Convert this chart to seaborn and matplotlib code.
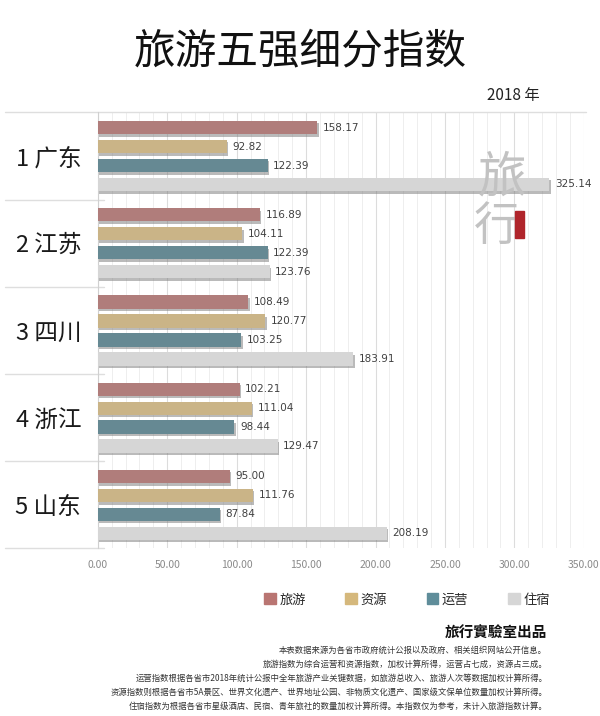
import pandas as pd
import matplotlib.pyplot as plt
import matplotlib.patheffects as pe
import matplotlib.ticker as mticker
from matplotlib.patches import Patch, Rectangle
import seaborn as sns

# --- data ---
provinces = ['1 广东', '2 江苏', '3 四川', '4 浙江', '5 山东']
series = ['旅游', '资源', '运营', '住宿']
tourism = [158.17, 116.89, 108.49, 102.21, 95.00]
resources = [92.82, 104.11, 120.77, 111.04, 111.76]
operation = [122.39, 122.39, 103.25, 98.44, 87.84]
lodging = [325.14, 123.76, 183.91, 129.47, 208.19]
colors = ['#b97572', '#d5b87c', '#5f8d9a', '#d6d6d6']

notes = [
    '本表数据来源为各省市政府统计公报以及政府、相关组织网站公开信息。',
    '旅游指数为综合运营和资源指数，加权计算所得，运营占七成，资源占三成。',
    '运营指数根据各省市2018年统计公报中全年旅游产业关键数据，如旅游总收入、旅游人次等数据加权计算所得。',
    '资源指数则根据各省市5A景区、世界文化遗产、世界地址公园、非物质文化遗产、国家级文保单位数量加权计算所得。',
    '住宿指数为根据各省市星级酒店、民宿、青年旅社的数量加权计算所得。本指数仅为参考，未计入旅游指数计算。',
]

df = pd.DataFrame({'省份': provinces, '旅游': tourism, '资源': resources,
                   '运营': operation, '住宿': lodging})
df = df.melt(id_vars='省份', var_name='指数', value_name='值')

sns.set_style('white')
plt.rcParams['font.family'] = ['Noto Sans CJK SC', 'DejaVu Sans']

fig = plt.figure(figsize=(6, 7.16), dpi=100)
ax = fig.add_axes([0.163, 0.234, 0.81, 0.609])

sns.barplot(data=df, x='值', y='省份', hue='指数', hue_order=series,
            palette=colors, orient='h', width=0.87, gap=0.3, linewidth=0,
            ax=ax, legend=False, zorder=3)

shadow = [pe.SimplePatchShadow(offset=(1.0, -1.8), shadow_rgbFace='#777777', alpha=0.5),
          pe.Normal()]
for bar in ax.patches:
    bar.set_linewidth(0)
    bar.set_path_effects(shadow)
for cont in ax.containers:
    ax.bar_label(cont, fmt='%.2f', padding=4, fontsize=7.5, color='#404040',
                 family='DejaVu Sans')

ax.set_xlim(0, 350)
ax.set_ylim(4.5, -0.5)
ax.xaxis.set_major_locator(mticker.MultipleLocator(50))
ax.xaxis.set_minor_locator(mticker.MultipleLocator(10))
ax.xaxis.set_major_formatter(mticker.FormatStrFormatter('%.2f'))
ax.grid(axis='x', which='major', color='#dcdcdc', lw=0.8, zorder=0)
ax.grid(axis='x', which='minor', color='#eeeeee', lw=0.7, zorder=0)
ax.set_axisbelow(True)
ax.tick_params(axis='x', which='both', length=0, labelsize=7.5, labelcolor='#8a8a8a', pad=8)
ax.tick_params(axis='y', length=0, labelsize=17, pad=12, labelcolor='#1a1a1a')
ax.set_xlabel('')
ax.set_ylabel('')
for s in ['top', 'right', 'bottom']:
    ax.spines[s].set_visible(False)
ax.spines['left'].set_color('#d0d0d0')

# group separator lines
trans = ax.get_yaxis_transform()
for i in range(6):
    y = i - 0.5
    x1 = 1.005 if i == 0 else 0.012
    ax.plot([-0.19, x1], [y, y], transform=trans, color='#dedede', lw=1, clip_on=False)

# title and year
fig.text(0.5, 0.928, '旅游五强细分指数', ha='center', va='center', fontsize=30, color='#111111')
fig.text(0.9, 0.866, '2018 年', ha='right', va='center', fontsize=11, color='#222222')

# watermark
fig.text(0.837, 0.752, '旅', ha='center', va='center', fontsize=35, color='#c2c2c2',
         fontweight='light')
fig.text(0.828, 0.683, '行', ha='center', va='center', fontsize=33, color='#c2c2c2',
         fontweight='light')
fig.patches.append(Rectangle((0.858, 0.668), 0.016, 0.037, transform=fig.transFigure,
                             color='#b0252b', zorder=5))

# legend
handles = [Patch(color=c) for c in colors]
fig.legend(handles, series, loc='center', bbox_to_anchor=(0.678, 0.162), ncol=4,
           frameon=False, fontsize=9.5, handlelength=0.9, handleheight=0.9,
           handletextpad=0.25, columnspacing=3.0)

fig.text(0.912, 0.116, '旅行實驗室出品', ha='right', va='center', fontsize=10.5,
         fontweight='bold', color='#111111')
for i, line in enumerate(notes):
    fig.text(0.912, 0.092 - i * 0.0195, line, ha='right', va='center', fontsize=6,
             color='#333333')

fig.savefig('out.png', dpi=100)
